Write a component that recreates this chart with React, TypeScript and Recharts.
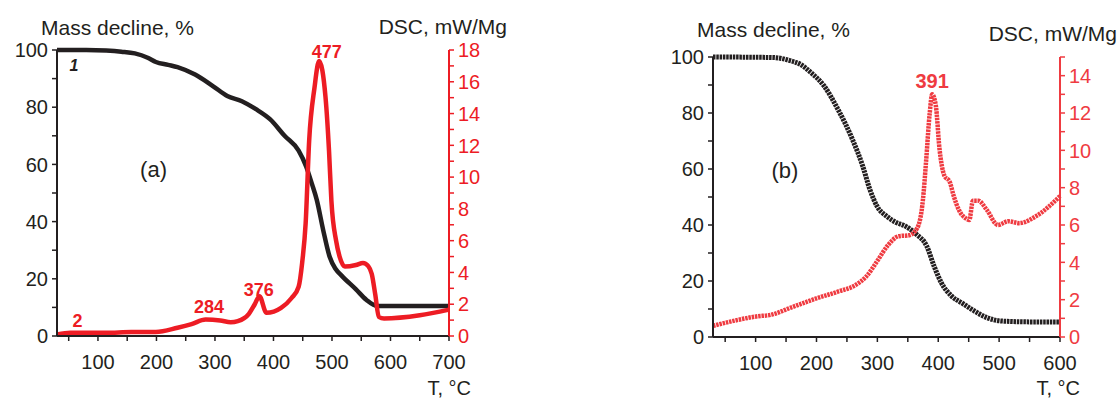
import React from 'react';
import { LineChart, Line, XAxis, YAxis, ReferenceDot } from 'recharts';

// ---- panel (a) ----
const tempMassA = [30, 80, 114, 140, 163, 185, 199, 220, 236, 266, 297, 321, 346, 370, 394, 419, 443, 456, 466, 474, 485, 496, 506, 516, 541, 559, 577, 600, 650, 700];
const massA = [100, 100, 99.8, 99.4, 98.8, 97.3, 95.8, 94.8, 94, 91.4, 87.3, 83.9, 82.1, 79.3, 75.8, 70, 64.8, 59.2, 53, 47.6, 37, 27.7, 23.5, 21.2, 16.3, 12.6, 10.5, 10.5, 10.5, 10.5];

const tempDscA = [30, 53, 114, 157, 199, 236, 260, 284, 309, 327, 339, 358, 368, 376, 388, 413, 431, 443, 449, 455, 461, 470, 478, 489, 495, 499, 507, 513, 522, 541, 553, 562, 568, 574, 580, 589, 650, 700];
const dscA = [0.1, 0.2, 0.2, 0.25, 0.25, 0.52, 0.75, 1.04, 0.98, 0.87, 0.94, 1.4, 2.0, 2.5, 1.46, 1.77, 2.39, 3.1, 4.6, 7.1, 12.3, 15.6, 17.3, 15, 11.6, 8.5, 6.0, 5.0, 4.37, 4.47, 4.6, 4.4, 3.9, 2.6, 1.2, 1.1, 1.3, 1.66];

// ---- panel (b) ----
const tempMassB = [30, 100, 130, 155, 175, 190, 212, 235, 259, 276, 288, 300, 315, 330, 346, 364, 381, 393, 405, 422, 440, 460, 480, 504, 550, 600];
const massB = [100, 99.9, 99.8, 98.8, 97.2, 94.6, 89.8, 81.4, 70.6, 61, 52.5, 46.5, 43.2, 41, 39.6, 36.7, 32.5, 25.4, 19.4, 14.6, 12, 9.2, 6.9, 5.7, 5.4, 5.4];

const tempDscB = [30, 66, 101, 125, 160, 200, 235, 265, 282, 300, 317, 335, 352, 361, 370, 375, 380, 386, 390, 396, 402, 410, 419, 425, 434, 445, 451, 457, 466, 480, 498, 515, 533, 562, 600];
const dscB = [0.6, 0.88, 1.1, 1.19, 1.6, 2.07, 2.43, 2.8, 3.25, 4.08, 4.9, 5.4, 5.45, 5.63, 6.27, 7.4, 9.4, 12, 13, 12.4, 10.1, 8.65, 8.3, 7.6, 6.8, 6.36, 6.27, 7.3, 7.3, 6.8, 6.0, 6.2, 6.1, 6.5, 7.55];

// ---- ticks ----
const tempTicksA = [50, 100, 150, 200, 250, 300, 350, 400, 450, 500, 550, 600, 650, 700];
const tempTicksB = [50, 100, 150, 200, 250, 300, 350, 400, 450, 500, 550, 600];
const massTicks = [0, 10, 20, 30, 40, 50, 60, 70, 80, 90, 100];
const dscTicksA = [0, 1, 2, 3, 4, 5, 6, 7, 8, 9, 10, 11, 12, 13, 14, 15, 16, 17, 18];
const dscTicksB = [0, 1, 2, 3, 4, 5, 6, 7, 8, 9, 10, 11, 12, 13, 14, 15];

const BLACK = '#231f20';
const RED = '#ed1c24';
const RED_B = '#ef3b41';
const FONT = 'Arial, "Liberation Sans", Helvetica, sans-serif';

const zip = (xs: number[], ys: number[]) => xs.map((t, i) => ({ t, v: ys[i] }));

// draws tick mark + label, only labelling every n-th value
const makeTick = (side: 'left' | 'right' | 'bottom', every: number, color: string) => (props: any) => {
  const { x, y, payload } = props;
  const v = payload.value;
  const show = v % every === 0;
  const txt = { fill: color, fontSize: 20, fontFamily: FONT };
  if (side === 'bottom') {
    return (
      <g>
        <line x1={x} x2={x} y1={y} y2={y + 5} stroke={color} strokeWidth={1.5} />
        {show && <text x={x} y={y + 33} textAnchor="middle" {...txt}>{v}</text>}
      </g>
    );
  }
  const dir = side === 'left' ? -1 : 1;
  return (
    <g>
      <line x1={x} x2={x + dir * 5} y1={y} y2={y} stroke={color} strokeWidth={1.5} />
      {show && (
        <text x={x + dir * 9} y={y} dy="0.36em" textAnchor={side === 'left' ? 'end' : 'start'} {...txt}>{v}</text>
      )}
    </g>
  );
};

const tag = (text: string, color: string, size: number, bold = true, italic = false) => (p: any) => (
  <text x={p.cx} y={p.cy} dy="0.36em" textAnchor="middle" fill={color} fontSize={size} fontFamily={FONT}
    fontWeight={bold ? 'bold' : 'normal'} fontStyle={italic ? 'italic' : 'normal'}>{text}</text>
);

const axisCommon = { tickSize: 0, tickMargin: 0, tickLine: false, interval: 0 as const };

export default function App() {
  return (
    <div style={{ position: 'absolute', left: 0, top: 0, width: 1119, height: 399, background: '#fff', overflow: 'hidden' }}>
      {/* (a) */}
      <div style={{ position: 'absolute', left: 0, top: 0 }}>
        <LineChart width={520} height={399} margin={{ top: 50, right: 0, bottom: 0, left: 0 }}>
          <XAxis type="number" dataKey="t" domain={[30, 700]} ticks={tempTicksA} height={63}
            axisLine={{ stroke: BLACK, strokeWidth: 2 }} tick={makeTick('bottom', 100, BLACK)} {...axisCommon} />
          <YAxis yAxisId="mass" domain={[0, 100]} ticks={massTicks} width={57}
            axisLine={{ stroke: BLACK, strokeWidth: 2 }} tick={makeTick('left', 20, BLACK)} {...axisCommon} />
          <YAxis yAxisId="dsc" orientation="right" domain={[0, 18]} ticks={dscTicksA} width={71}
            axisLine={{ stroke: RED, strokeWidth: 2 }} tick={makeTick('right', 2, RED)} {...axisCommon} />
          <Line yAxisId="mass" data={zip(tempMassA, massA)} dataKey="v" type="monotone" stroke={BLACK}
            strokeWidth={4.5} dot={false} isAnimationActive={false} />
          <Line yAxisId="dsc" data={zip(tempDscA, dscA)} dataKey="v" type="monotone" stroke={RED}
            strokeWidth={4.5} dot={false} isAnimationActive={false} />
          <ReferenceDot yAxisId="mass" x={59} y={94.8} r={0} shape={tag('1', BLACK, 16, true, true)} />
          <ReferenceDot yAxisId="mass" x={195} y={58.4} r={0} shape={tag('(a)', BLACK, 22, false)} />
          <ReferenceDot yAxisId="dsc" x={65} y={0.97} r={0} shape={tag('2', RED, 18)} />
          <ReferenceDot yAxisId="dsc" x={290} y={1.86} r={0} shape={tag('284', RED, 18)} />
          <ReferenceDot yAxisId="dsc" x={375} y={2.9} r={0} shape={tag('376', RED, 18)} />
          <ReferenceDot yAxisId="dsc" x={491} y={17.9} r={0} shape={tag('477', RED, 18)} />
        </LineChart>
      </div>

      {/* (b) */}
      <div style={{ position: 'absolute', left: 560, top: 0 }}>
        <LineChart width={559} height={399} margin={{ top: 57, right: 0, bottom: 0, left: 0 }}>
          <XAxis type="number" dataKey="t" domain={[30, 600]} ticks={tempTicksB} height={62}
            axisLine={{ stroke: BLACK, strokeWidth: 2 }} tick={makeTick('bottom', 100, BLACK)} {...axisCommon} />
          <YAxis yAxisId="mass" domain={[0, 100]} ticks={massTicks} width={153}
            axisLine={{ stroke: BLACK, strokeWidth: 2 }} tick={makeTick('left', 20, BLACK)} {...axisCommon} />
          <YAxis yAxisId="dsc" orientation="right" domain={[0, 15]} ticks={dscTicksB} width={59}
            axisLine={{ stroke: RED_B, strokeWidth: 2 }} tick={makeTick('right', 2, RED_B)} {...axisCommon} />
          <Line yAxisId="mass" data={zip(tempMassB, massB)} dataKey="v" type="monotone" stroke={BLACK}
            strokeWidth={5} strokeDasharray="2.5 0.8" dot={false} isAnimationActive={false} />
          <Line yAxisId="dsc" data={zip(tempDscB, dscB)} dataKey="v" type="monotone" stroke={RED_B}
            strokeWidth={4.5} strokeDasharray="2.5 0.8" dot={false} isAnimationActive={false} />
          <ReferenceDot yAxisId="mass" x={148} y={59.6} r={0} shape={tag('(b)', BLACK, 22, false)} />
          <ReferenceDot yAxisId="dsc" x={390} y={13.7} r={0} shape={tag('391', RED_B, 20)} />
        </LineChart>
      </div>

      {/* axis titles */}
      <svg width={1119} height={399} style={{ position: 'absolute', left: 0, top: 0, pointerEvents: 'none' }}>
        <g fill={BLACK} fontFamily={FONT} fontSize={21}>
          <text x={41} y={35}>Mass decline, %</text>
          <text x={507} y={34} textAnchor="end">DSC, mW/Mg</text>
          <text x={471} y={395} textAnchor="end" fontSize={20}>T, °C</text>
          <text x={697} y={37}>Mass decline, %</text>
          <text x={1117} y={41} textAnchor="end">DSC, mW/Mg</text>
          <text x={1080} y={395} textAnchor="end" fontSize={20}>T, °C</text>
        </g>
      </svg>
    </div>
  );
}
